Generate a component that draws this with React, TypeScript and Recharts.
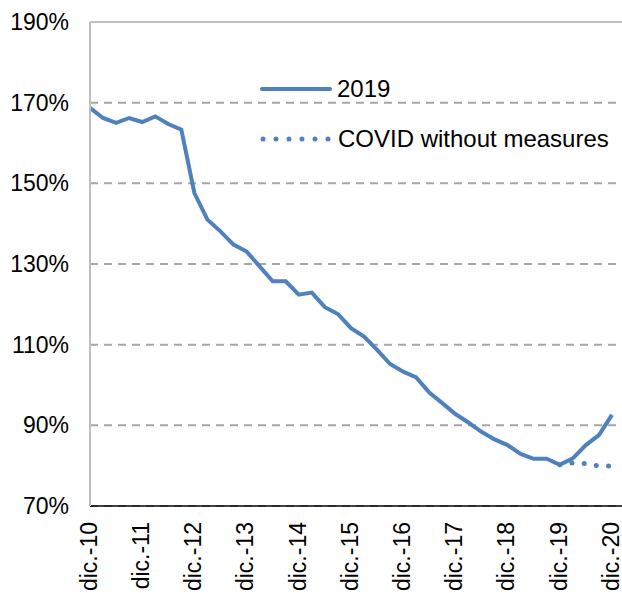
import React from 'react';
import { LineChart, Line, XAxis, YAxis, CartesianGrid, ReferenceLine, Legend } from 'recharts';

// quarterly observations, dic.-10 .. dic.-20
const values2019 = [
  168.7, 166.2, 165.0, 166.2, 165.2, 166.6, 164.7, 163.3, 147.6, 141.0,
  138.1, 134.8, 133.1, 129.4, 125.7, 125.7, 122.4, 122.9, 119.3, 117.6,
  114.1, 112.0, 108.7, 105.2, 103.3, 101.9, 98.1, 95.5, 92.8, 90.7,
  88.4, 86.5, 85.1, 82.9, 81.7, 81.7, 80.2, 81.8, 85.1, 87.6, 92.6,
];
// scenario only covers the last quarters
const covidValues: (number | null)[] = [
  ...Array(36).fill(null),
  80.2, 80.7, 80.5, 79.9, 79.9,
];
const yearLabels = ['dic.-10', 'dic.-11', 'dic.-12', 'dic.-13', 'dic.-14', 'dic.-15', 'dic.-16', 'dic.-17', 'dic.-18', 'dic.-19', 'dic.-20'];
const yTicks = [70, 90, 110, 130, 150, 170, 190];

const BLUE = '#4F81BD';
const FONT = '"Liberation Sans", Arial, sans-serif';

const data = values2019.map((v, i) => ({ idx: i, base: v, covid: covidValues[i] }));
const xTicks = yearLabels.map((_, i) => i * 4);

const XTick = (props: any) => {
  const { x, y, payload } = props;
  const label = yearLabels[payload.value / 4];
  const ty = y + 8;
  return (
    <text
      x={x}
      y={ty}
      transform={`rotate(-90, ${x}, ${ty})`}
      textAnchor="end"
      dy="0.3em"
      fontSize={23}
      fontFamily={FONT}
      fill="#000"
    >
      {label}
    </text>
  );
};

const LegendBox = () => (
  <div style={{ fontFamily: FONT, fontSize: 24, color: '#000' }}>
    <div style={{ display: 'flex', alignItems: 'center', height: 50 }}>
      <svg width={72} height={10}>
        <line x1={2} y1={5} x2={70} y2={5} stroke={BLUE} strokeWidth={4} strokeLinecap="round" />
      </svg>
      <span style={{ marginLeft: 5 }}>2019</span>
    </div>
    <div style={{ display: 'flex', alignItems: 'center', height: 50 }}>
      <svg width={72} height={10}>
        <line x1={3} y1={5} x2={69} y2={5} stroke={BLUE} strokeWidth={5} strokeLinecap="round" strokeDasharray="0 13" />
      </svg>
      <span style={{ marginLeft: 6 }}>COVID without measures</span>
    </div>
  </div>
);

export default function App() {
  React.useEffect(() => {
    document.body.style.margin = '0';
  }, []);

  return (
    <div style={{ width: 622, height: 593, background: '#fff' }}>
      <LineChart width={622} height={593} data={data} margin={{ top: 22, right: 0, bottom: 0, left: 0 }}>
        <CartesianGrid vertical={false} stroke="#A6A6A6" strokeWidth={2} strokeDasharray="8 6" />
        <XAxis
          type="number"
          dataKey="idx"
          domain={[0, 40.77]}
          ticks={xTicks}
          interval={0}
          tick={<XTick />}
          tickLine={false}
          height={87}
          axisLine={{ stroke: '#000', strokeWidth: 1.5 }}
        />
        <YAxis
          domain={[70, 190]}
          ticks={yTicks}
          interval={0}
          width={90}
          tickLine={false}
          tickSize={0}
          tickMargin={21}
          tickFormatter={(v: number) => `${v}%`}
          tick={{ fill: '#000', fontSize: 23, fontFamily: FONT }}
          axisLine={{ stroke: '#BFBFBF', strokeWidth: 2 }}
        />
        <ReferenceLine y={190} stroke="#BFBFBF" strokeWidth={2} />
        <Legend
          layout="horizontal"
          verticalAlign="middle"
          align="center"
          content={<LegendBox />}
          wrapperStyle={{ position: 'absolute', top: 64, left: 260, width: 'auto' }}
        />
        <Line
          dataKey="covid"
          stroke={BLUE}
          strokeWidth={5}
          strokeLinecap="round"
          strokeDasharray="0 12.3"
          dot={false}
          activeDot={false}
          isAnimationActive={false}
        />
        <Line
          dataKey="base"
          stroke={BLUE}
          strokeWidth={4}
          dot={false}
          activeDot={false}
          isAnimationActive={false}
        />
      </LineChart>
    </div>
  );
}
